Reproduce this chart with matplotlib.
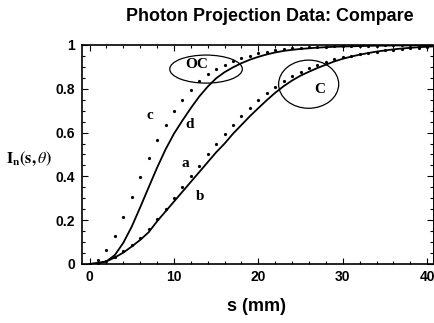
import numpy as np
import matplotlib
matplotlib.use("Agg")
import matplotlib.pyplot as plt
from matplotlib.patches import Ellipse
from matplotlib.ticker import MultipleLocator

plt.rcParams["font.family"] = ["Liberation Sans", "DejaVu Sans"]
plt.rcParams["mathtext.fontset"] = "stix"

# ------------------- Data -------------------

# measured projections (dots) sampled every 1 mm
s_dots = np.arange(0, 41)
I_c = [0, 0.018, 0.064, 0.13, 0.213, 0.305, 0.396, 0.483, 0.564, 0.636,
       0.70, 0.748, 0.794, 0.835, 0.867, 0.889, 0.908, 0.926, 0.94, 0.952,
       0.962, 0.97, 0.976, 0.981, 0.985, 0.988, 0.99, 0.992, 0.993, 0.994,
       0.995, 0.996, 0.996, 0.997, 0.997, 0.998, 0.998, 0.998, 0.999, 0.999, 0.999]
I_a = [0, 0.003, 0.013, 0.033, 0.059, 0.087, 0.12, 0.16, 0.205, 0.25,
       0.30, 0.353, 0.402, 0.449, 0.50, 0.547, 0.592, 0.636, 0.677, 0.714,
       0.749, 0.782, 0.81, 0.837, 0.86, 0.878, 0.895, 0.91, 0.922, 0.934,
       0.944, 0.952, 0.959, 0.965, 0.97, 0.975, 0.979, 0.982, 0.985, 0.987, 0.989]

# model curves (solid)
s_line = np.arange(0, 42)
I_d = [0, 0.005, 0.012, 0.041, 0.097, 0.171, 0.259, 0.35, 0.44, 0.523,
       0.595, 0.655, 0.712, 0.765, 0.81, 0.848, 0.876, 0.898, 0.917, 0.933,
       0.946, 0.957, 0.966, 0.973, 0.978, 0.982, 0.985, 0.988, 0.99, 0.992,
       0.993, 0.994, 0.995, 0.996, 0.997, 0.997, 0.998, 0.998, 0.998, 0.999, 0.999, 0.999]
I_b = [0, 0.003, 0.012, 0.03, 0.052, 0.08, 0.11, 0.145, 0.195, 0.24,
       0.285, 0.33, 0.375, 0.42, 0.465, 0.51, 0.55, 0.595, 0.635, 0.675,
       0.712, 0.748, 0.782, 0.812, 0.838, 0.86, 0.878, 0.895, 0.91, 0.925,
       0.937, 0.947, 0.956, 0.963, 0.97, 0.975, 0.98, 0.984, 0.987, 0.99, 0.992, 0.994]

curve_labels = ["a", "b", "c", "d"]
label_pos = [(11.3, 0.46), (13.1, 0.307), (7.2, 0.68), (11.9, 0.635)]

# ------------------- Plotting -------------------

fig = plt.figure(figsize=(4.35, 3.23), dpi=100)
ax = fig.add_axes([0.1885, 0.1827, 0.807, 0.678])

ax.plot(s_line, I_d, color="black", lw=1.3)
ax.plot(s_line, I_b, color="black", lw=1.3)
ax.plot(s_dots, I_c, "o", color="black", ms=2.3, mew=0)
ax.plot(s_dots, I_a, "o", color="black", ms=2.3, mew=0)

serif = ["Liberation Serif", "DejaVu Serif"]
for lab, (x, y) in zip(curve_labels, label_pos):
    ax.text(x, y, lab, family=serif, fontweight="bold", fontsize=11,
            ha="center", va="center")

ax.add_patch(Ellipse((13.8, 0.89), 8.6, 0.128, fill=False, lw=0.9, color="black"))
ax.add_patch(Ellipse((25.96, 0.821), 7.12, 0.22, fill=False, lw=0.9, color="black"))
ax.text(12.7, 0.909, "OC", family=serif, fontweight="bold", fontsize=11,
        ha="center", va="center")
ax.text(27.3, 0.797, "C", family=serif, fontweight="bold", fontsize=11,
        ha="center", va="center")

ax.set_xlim(-0.9, 40.7)
ax.set_ylim(0, 1)
ax.xaxis.set_major_locator(MultipleLocator(10))
ax.xaxis.set_minor_locator(MultipleLocator(2))
ax.yaxis.set_major_locator(MultipleLocator(0.2))
ax.yaxis.set_minor_locator(MultipleLocator(0.05))
ax.yaxis.set_major_formatter(lambda v, _: f"{v:g}")

ax.tick_params(which="both", direction="in", top=True, right=True, width=0.8)
ax.tick_params(which="major", length=4)
ax.tick_params(which="minor", length=2)
ax.tick_params(axis="x", pad=4)
ax.tick_params(axis="y", pad=5)
for lab in ax.get_xticklabels() + ax.get_yticklabels():
    lab.set_fontweight("bold")
    lab.set_fontsize(10)

for side in ["left", "bottom", "top"]:
    ax.spines[side].set_linewidth(1.2)
ax.spines["right"].set_linewidth(0.7)

fig.text(0.62, 0.95, "Photon Projection Data: Compare", ha="center", va="center",
         fontsize=12.9, fontweight="bold")
fig.text(0.59, 0.05, "s (mm)", ha="center", va="center",
         fontsize=13, fontweight="bold")
fig.text(0.014, 0.508, r"$\mathbf{I_n(s,}\theta\mathbf{)}$", ha="left", va="center",
         fontsize=11.5)

fig.savefig("out.png", dpi=100)
